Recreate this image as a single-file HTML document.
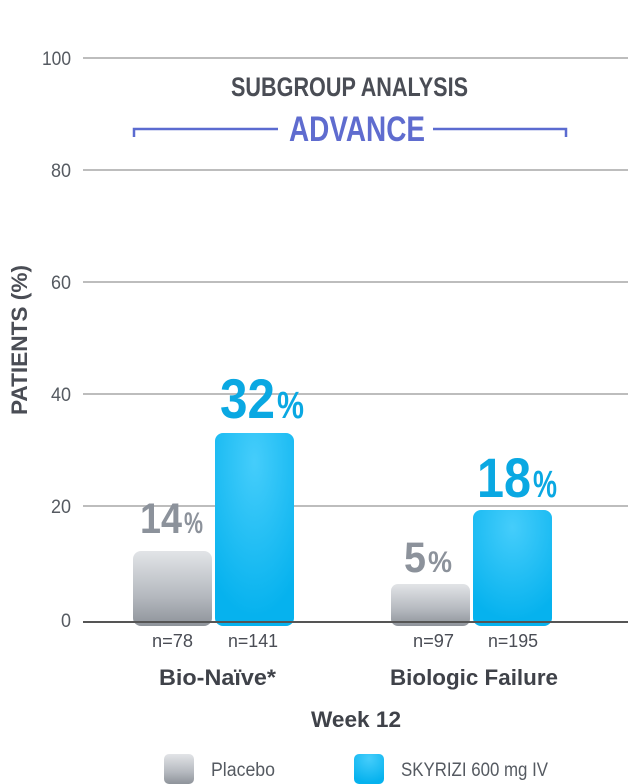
<!DOCTYPE html>
<html><head><meta charset="utf-8"><style>
html,body{margin:0;padding:0;background:#fff;width:628px;height:784px;overflow:hidden}
svg{display:block}
text{font-family:"Liberation Sans Narrow","Liberation Sans",sans-serif}
</style></head><body>
<svg width="628" height="784" viewBox="0 0 628 784" xmlns="http://www.w3.org/2000/svg">
<defs>
<linearGradient id="gp" x1="0" y1="0" x2="0" y2="1">
<stop offset="0" stop-color="#e2e4e7"/><stop offset="0.6" stop-color="#b5b9bf"/><stop offset="1" stop-color="#8e939a"/></linearGradient>
<radialGradient id="gs" cx="0.5" cy="0.15" r="0.8">
<stop offset="0" stop-color="#45cdfb"/><stop offset="1" stop-color="#06b2ee"/></radialGradient>
</defs>
<g stroke="#bdbdbd" stroke-width="2">
<line x1="83" y1="58" x2="628" y2="58"/>
<line x1="83" y1="170" x2="628" y2="170"/>
<line x1="83" y1="282" x2="628" y2="282"/>
<line x1="83" y1="394" x2="628" y2="394"/>
<line x1="83" y1="506" x2="628" y2="506"/>
</g>
<g fill="#555a61" font-size="19" lengthAdjust="spacingAndGlyphs">
<text x="42" y="65" textLength="29" lengthAdjust="spacingAndGlyphs">100</text>
<text x="51" y="177" textLength="20" lengthAdjust="spacingAndGlyphs">80</text>
<text x="51" y="289" textLength="20" lengthAdjust="spacingAndGlyphs">60</text>
<text x="51" y="401" textLength="20" lengthAdjust="spacingAndGlyphs">40</text>
<text x="51" y="513" textLength="20" lengthAdjust="spacingAndGlyphs">20</text>
<text x="61" y="627" textLength="10" lengthAdjust="spacingAndGlyphs">0</text>
</g>
<text transform="translate(27,415) rotate(-90)" font-size="22" font-weight="bold" fill="#4a4d55" textLength="150" lengthAdjust="spacingAndGlyphs">PATIENTS (%)</text>
<text x="231" y="96" font-size="27" font-weight="bold" fill="#4a4d55" textLength="237" lengthAdjust="spacingAndGlyphs">SUBGROUP ANALYSIS</text>
<g stroke="#5b6bd0" stroke-width="2.5" fill="none">
<polyline points="134,137 134,129 278,129"/><polyline points="433,129 566,129 566,137"/>
</g>
<text x="289" y="141" font-size="35" font-weight="bold" fill="#5f6ccf" textLength="136" lengthAdjust="spacingAndGlyphs">ADVANCE</text>
<rect x="133" y="551" width="79" height="75" rx="8" fill="url(#gp)"/>
<rect x="215" y="433" width="79" height="193" rx="8" fill="url(#gs)"/>
<rect x="391" y="584" width="79" height="42" rx="7" fill="url(#gp)"/>
<rect x="473" y="510" width="79" height="116" rx="8" fill="url(#gs)"/>
<line x1="83" y1="622" x2="628" y2="622" stroke="#555" stroke-width="2"/>
<g font-weight="bold">
<text x="140" y="533" fill="#8c929b" font-size="43" textLength="42" lengthAdjust="spacingAndGlyphs">14</text>
<text x="184" y="533" fill="#8c929b" font-size="30" textLength="19" lengthAdjust="spacingAndGlyphs">%</text>
<text x="220" y="418" fill="#0aa8e2" font-size="56" textLength="55" lengthAdjust="spacingAndGlyphs">32</text>
<text x="277" y="418" fill="#0aa8e2" font-size="38" textLength="27" lengthAdjust="spacingAndGlyphs">%</text>
<text x="404" y="572" fill="#8c929b" font-size="43" textLength="22" lengthAdjust="spacingAndGlyphs">5</text>
<text x="428" y="572" fill="#8c929b" font-size="30" textLength="24" lengthAdjust="spacingAndGlyphs">%</text>
<text x="477" y="497" fill="#0aa8e2" font-size="56" textLength="54" lengthAdjust="spacingAndGlyphs">18</text>
<text x="533" y="497" fill="#0aa8e2" font-size="38" textLength="24" lengthAdjust="spacingAndGlyphs">%</text>
</g>
<g fill="#4a4d55" font-size="18">
<text x="152" y="647" textLength="41" lengthAdjust="spacingAndGlyphs">n=78</text>
<text x="228" y="647" textLength="50" lengthAdjust="spacingAndGlyphs">n=141</text>
<text x="413" y="647" textLength="41" lengthAdjust="spacingAndGlyphs">n=97</text>
<text x="488" y="647" textLength="50" lengthAdjust="spacingAndGlyphs">n=195</text>
</g>
<g fill="#3f4249" font-size="22" font-weight="bold">
<text x="159" y="685" textLength="117" lengthAdjust="spacingAndGlyphs">Bio-Naïve*</text>
<text x="390" y="685" textLength="168" lengthAdjust="spacingAndGlyphs">Biologic Failure</text>
<text x="311" y="727" textLength="90" lengthAdjust="spacingAndGlyphs">Week 12</text>
</g>
<rect x="164" y="754" width="30" height="30" rx="5" fill="url(#gp)"/>
<rect x="354" y="754" width="30" height="30" rx="5" fill="url(#gs)"/>
<g fill="#555a61" font-size="19">
<text x="211" y="776" textLength="64" lengthAdjust="spacingAndGlyphs">Placebo</text>
<text x="401" y="776" textLength="147" lengthAdjust="spacingAndGlyphs">SKYRIZI 600 mg IV</text>
</g>
</svg>
</body></html>
